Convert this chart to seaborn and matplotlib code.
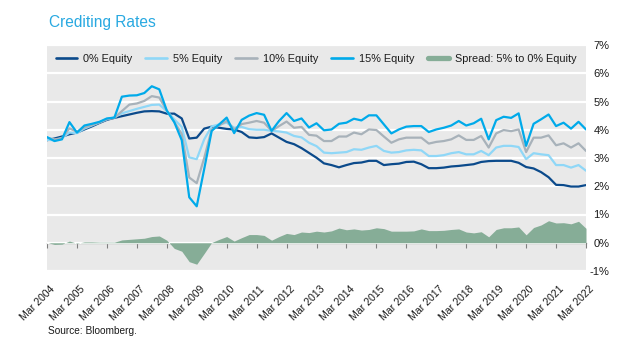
import numpy as np
import pandas as pd
import matplotlib
matplotlib.use("Agg")
import matplotlib.pyplot as plt
import matplotlib.transforms as mtransforms
import seaborn as sns
from matplotlib.lines import Line2D

# Quarterly crediting rates (%), Mar 2004 - Mar 2022
quarters = pd.period_range("2004Q1", "2022Q1", freq="Q")

equity_0 = [
    3.63, 3.69, 3.76, 3.84, 3.90, 4.01, 4.12, 4.24, 4.35, 4.42,
    4.48, 4.54, 4.60, 4.65, 4.66, 4.65, 4.57, 4.57, 4.40, 3.69,
    3.72, 4.04, 4.11, 4.07, 4.03, 4.01, 3.92, 3.73, 3.71, 3.74,
    3.87, 3.72, 3.57, 3.49, 3.35, 3.18, 3.01, 2.81, 2.75, 2.67,
    2.75, 2.82, 2.84, 2.90, 2.90, 2.75, 2.78, 2.80, 2.86, 2.87,
    2.78, 2.64, 2.64, 2.66, 2.70, 2.72, 2.75, 2.78, 2.86, 2.89,
    2.90, 2.90, 2.90, 2.83, 2.68, 2.63, 2.50, 2.32, 2.05, 2.04,
    1.99, 1.99, 2.04,
]
equity_5 = [
    3.64, 3.63, 3.71, 3.90, 3.88, 4.04, 4.15, 4.26, 4.37, 4.44,
    4.58, 4.66, 4.74, 4.81, 4.88, 4.89, 4.66, 4.37, 4.10, 3.02,
    2.96, 3.66, 4.12, 4.19, 4.25, 4.07, 4.10, 4.02, 4.00, 4.00,
    3.96, 3.94, 3.90, 3.78, 3.73, 3.54, 3.42, 3.19, 3.17, 3.19,
    3.21, 3.31, 3.29, 3.37, 3.43, 3.25, 3.19, 3.21, 3.27, 3.29,
    3.27, 3.07, 3.07, 3.10, 3.17, 3.21, 3.13, 3.13, 3.25, 3.10,
    3.37, 3.43, 3.43, 3.39, 2.96, 3.17, 3.13, 3.10, 2.75, 2.75,
    2.66, 2.75, 2.55,
]
equity_10 = [
    3.72, 3.66, 3.70, 4.05, 3.93, 4.08, 4.17, 4.26, 4.38, 4.42,
    4.66, 4.89, 4.93, 5.02, 5.19, 5.14, 4.68, 4.28, 3.85, 2.31,
    2.11, 3.00, 4.01, 4.15, 4.31, 4.01, 4.20, 4.25, 4.31, 4.25,
    3.96, 4.13, 4.29, 4.07, 4.10, 3.82, 3.79, 3.60, 3.60, 3.76,
    3.76, 3.90, 3.84, 4.01, 3.99, 3.76, 3.54, 3.66, 3.72, 3.72,
    3.72, 3.51, 3.57, 3.60, 3.66, 3.80, 3.64, 3.64, 3.78, 3.37,
    3.87, 3.99, 3.95, 4.01, 3.21, 3.72, 3.72, 3.80, 3.45, 3.52,
    3.37, 3.52, 3.25,
]
equity_15 = [
    3.74, 3.60, 3.66, 4.27, 3.90, 4.15, 4.21, 4.28, 4.40, 4.43,
    5.17, 5.21, 5.22, 5.30, 5.54, 5.43, 4.68, 4.27, 3.63, 1.61,
    1.29, 2.61, 3.96, 4.19, 4.43, 3.88, 4.35, 4.50, 4.59, 4.53,
    3.96, 4.31, 4.59, 4.31, 4.40, 4.08, 4.23, 3.98, 4.01, 4.21,
    4.25, 4.39, 4.33, 4.51, 4.51, 4.19, 3.87, 4.01, 4.11, 4.13,
    4.13, 3.92, 4.01, 4.07, 4.15, 4.31, 4.15, 4.23, 4.39, 3.66,
    4.34, 4.46, 4.42, 4.58, 3.43, 4.21, 4.37, 4.54, 4.13, 4.25,
    4.04, 4.28, 4.01,
]

series_names = ["0% Equity", "5% Equity", "10% Equity", "15% Equity"]
spread_name = "Spread: 5% to 0% Equity"
y_ticks = [-1, 0, 1, 2, 3, 4, 5, 6, 7]

colors = {
    "0% Equity": "#0B4A8B",
    "5% Equity": "#8FD7F7",
    "10% Equity": "#A8B2BA",
    "15% Equity": "#00AAEA",
}
spread_color = "#86AD97"
panel_color = "#E9E9E9"
text_color = "#1a1a1a"

sns.set_theme(style="white")
plt.rcParams["font.family"] = ["Liberation Sans", "DejaVu Sans"]

pos = np.arange(len(quarters))
long = pd.concat(
    [
        pd.DataFrame({"pos": pos, "rate": vals, "series": name})
        for name, vals in zip(series_names, [equity_0, equity_5, equity_10, equity_15])
    ],
    ignore_index=True,
)
spread = np.array(equity_5) - np.array(equity_0)

fig = plt.figure(figsize=(6.26, 3.45), dpi=100)
ax = fig.add_axes([47 / 626, 1 - 271 / 345, 539 / 626, 226 / 345])
ax.set_facecolor(panel_color)

# spread area between the 5% and 0% equity portfolios
ax.fill_between(pos, 0, spread, color=spread_color, linewidth=0, zorder=2)

sns.lineplot(
    data=long, x="pos", y="rate", hue="series", hue_order=series_names,
    palette=colors, linewidth=1.6, legend=False, ax=ax, zorder=3,
)

ax.set_xlim(pos[0], pos[-1])
ax.set_ylim(y_ticks[0], y_ticks[-1])
for s in ax.spines.values():
    s.set_visible(False)

# horizontal white gridlines
ax.set_axisbelow(True)
ax.yaxis.grid(True, color="white", linewidth=1.6)
ax.xaxis.grid(False)

# percentage labels on the right
ax.yaxis.tick_right()
ax.set_yticks(y_ticks)
ax.set_yticklabels([f"{v}%" for v in y_ticks], fontsize=8, color=text_color)
ax.tick_params(axis="y", length=0, pad=17)
for lab in ax.get_yticklabels():
    lab.set_horizontalalignment("right")

# year labels below the panel
year_pos = pos[::4]
year_labels = [f"Mar {q.year}" for q in quarters[::4]]
ax.set_xticks(year_pos)
ax.set_xticklabels(year_labels, fontsize=7.6, rotation=45, ha="right",
                   va="top", rotation_mode="anchor", color=text_color)
ax.tick_params(axis="x", length=0, pad=9.5)
shift = mtransforms.ScaledTranslation(3 / 100, 0, fig.dpi_scale_trans)
for lab in ax.get_xticklabels():
    lab.set_transform(lab.get_transform() + shift)
ax.set_xlabel("")
ax.set_ylabel("")

# zero line with tick marks
zero_frac = (0 - y_ticks[0]) / (y_ticks[-1] - y_ticks[0])
zero_axis = ax.secondary_xaxis(zero_frac)
zero_axis.set_xticks(year_pos)
zero_axis.set_xticklabels([])
zero_axis.tick_params(length=3.5, width=0.8, color="#808080", direction="out")
zero_axis.spines["bottom"].set_color("#808080")
zero_axis.spines["bottom"].set_linewidth(0.9)

handles = [Line2D([], [], color=colors[n], linewidth=1.9) for n in series_names]
handles.append(Line2D([], [], color=spread_color, linewidth=3.8))
ax.legend(
    handles, series_names + [spread_name], ncol=5, loc="center left",
    bbox_to_anchor=(0.016, 0.94), frameon=False, fontsize=7.8,
    handlelength=2.0, handletextpad=0.5, columnspacing=1.25,
    borderpad=0, borderaxespad=0, labelcolor=text_color,
)

fig.text(49 / 626, 1 - 27 / 345, "Crediting Rates", fontsize=11.2,
         color="#29A9E1", va="baseline", ha="left")
fig.text(48 / 626, 1 - 334 / 345, "Source: Bloomberg.", fontsize=7.3,
         color=text_color, va="baseline", ha="left")

fig.savefig("out.png", dpi=100, facecolor="white")
